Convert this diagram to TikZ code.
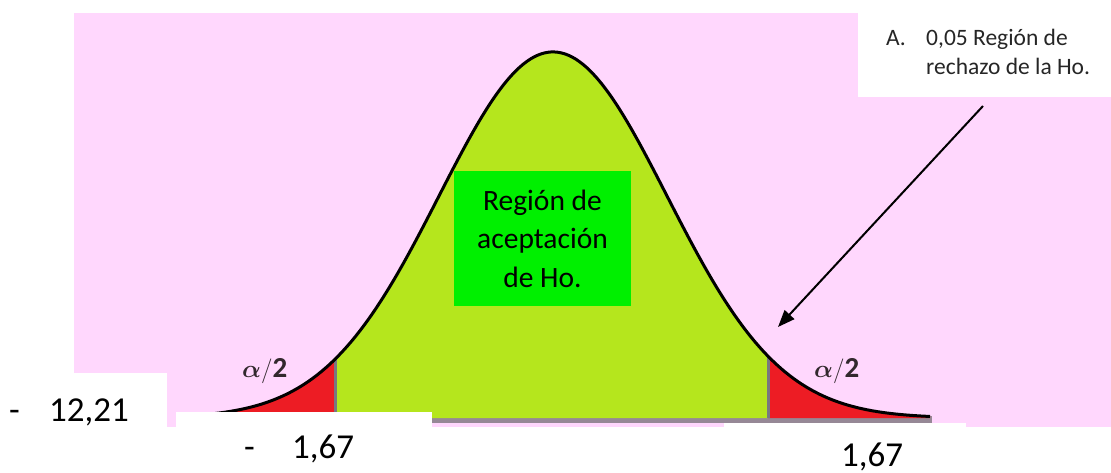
\documentclass[tikz,border=0pt]{standalone}
\usepackage{amsmath}
\usepackage{fontspec}
\setmainfont{Carlito}
\usetikzlibrary{arrows.meta}
\definecolor{bgpink}{RGB}{255,215,253}
\definecolor{curvegreen}{RGB}{181,230,29}
\definecolor{tailred}{RGB}{237,28,36}
\definecolor{boxgreen}{RGB}{0,240,0}
\definecolor{axisgray}{RGB}{150,136,150}
\definecolor{edgegray}{RGB}{120,120,128}
\definecolor{alphacol}{RGB}{50,40,45}
\tikzset{
  whitebox/.style={fill=white, draw=none, inner sep=0pt, anchor=north west},
  bigtxt/.style={anchor=base west, inner sep=0pt, font=\fontsize{35}{40}\selectfont},
  calltxt/.style={anchor=base west, inner sep=0pt, font=\fontsize{23.5}{28}\selectfont, text=black!85},
  alphatxt/.style={anchor=base west, inner sep=0pt, font=\fontsize{29}{34}\selectfont, text=alphacol},
  curveline/.style={line width=3pt, line join=round},
  divider/.style={line width=3pt, edgegray},
  pointer/.style={line width=2pt, -{Triangle[length=17pt,width=13pt]}}
}
\begin{document}
\begin{tikzpicture}[x=1pt,y=-1pt]
\useasboundingbox (0,0) rectangle (1111,473);
% background
\fill[bgpink] (74,13) rectangle (1111,427);
% axis
\fill[axisgray] (176,416) rectangle (932,423);
% fills
\fill[tailred] plot[domain=180:335,samples=80] (\x,{418-366*exp(-((\x-553)/114)^2/2)}) -- (335,418) -- (180,418) -- cycle;
\fill[curvegreen] plot[domain=335:768,samples=200] (\x,{418-366*exp(-((\x-553)/114)^2/2)}) -- (768,418) -- (335,418) -- cycle;
\fill[tailred] plot[domain=768:930,samples=80] (\x,{418-366*exp(-((\x-553)/114)^2/2)}) -- (930,418) -- (768,418) -- cycle;
% dividers
\draw[divider] (335,{418-366*exp(-((335-553)/114)^2/2)}) -- (335,418);
\draw[divider] (768,{418-366*exp(-((768-553)/114)^2/2)}) -- (768,418);
% curve
\draw[curveline] plot[domain=180:930,samples=300] (\x,{418-366*exp(-((\x-553)/114)^2/2)});
% alpha labels
\node[alphatxt] (alphaL) at (242,377) {$\boldsymbol{\alpha}/\mathbf{2}$};
\node[alphatxt] (alphaR) at (814,377) {$\boldsymbol{\alpha}/\mathbf{2}$};
% acceptance box
\node[fill=boxgreen, minimum width=177pt, minimum height=135pt, inner sep=0pt, align=center,
      font=\fontsize{29.5}{38.5}\selectfont] (accept) at (542.5,238.5) {Región de\\aceptación\\de Ho.};
% white label boxes
\node[whitebox, minimum width=167pt, minimum height=100pt] (boxA) at (0,373) {};
\node[whitebox, minimum width=256pt, minimum height=61pt] (boxB) at (176,412) {};
\node[whitebox, minimum width=242pt, minimum height=50pt] (boxC) at (724,423) {};
\node[whitebox, minimum width=253pt, minimum height=84pt] (boxD) at (858,13) {};
% labels
\node[bigtxt] (dashA) at (9,421) {-};
\node[bigtxt] (valA) at (49,421) {12,21};
\node[bigtxt] (dashB) at (244,458) {-};
\node[bigtxt] (valB) at (292,458) {1,67};
\node[bigtxt] (valC) at (841,466) {1,67};
\node[calltxt] (callA) at (886,46) {A.};
\node[calltxt] (callB) at (926,46) {0,05 Región de};
\node[calltxt] (callC) at (926,75) {rechazo de la Ho.};
% pointer
\coordinate (ptrStart) at (983,106);
\coordinate (ptrTip) at (778,327);
\draw[pointer] (ptrStart) -- (ptrTip);
\end{tikzpicture}
\end{document}
